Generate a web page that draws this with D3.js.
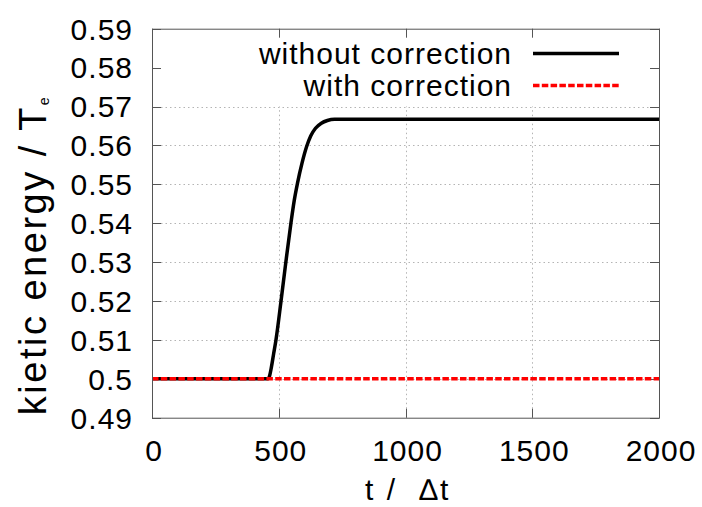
<!DOCTYPE html>
<html>
<head>
<meta charset="utf-8">
<script src="https://cdn.jsdelivr.net/npm/d3@7"></script>
<style>
  html, body { margin: 0; padding: 0; background: #fff; }
  text { font-family: "Liberation Sans", Arial, sans-serif; fill: #000; letter-spacing: 1px; }
</style>
</head>
<body>
<svg id="chart" width="702" height="507"></svg>
<script>
'use strict'

// data
const xTicks = [0, 500, 1000, 1500, 2000]
const yTicks = [0.49, 0.5, 0.51, 0.52, 0.53, 0.54, 0.55, 0.56, 0.57, 0.58, 0.59]
const tWithout = [0, 100, 200, 300, 400, 458, 464, 471, 480, 489, 509, 528, 548, 561, 574, 592, 610, 626, 645, 668, 692, 720, 800, 1000, 1500, 2000]
const eWithout = [0.5, 0.5, 0.5, 0.5, 0.5, 0.5, 0.5008, 0.503, 0.5065, 0.51, 0.52, 0.53, 0.54, 0.5458, 0.5503, 0.5555, 0.5597, 0.5624, 0.5644, 0.5657, 0.5664, 0.5667, 0.5667, 0.5667, 0.5667, 0.5667]
const tWith = [0, 500, 1000, 1500, 2000]
const eWith = [0.5, 0.5, 0.5, 0.5, 0.5]
const seriesNames = ['without correction', 'with correction']

const d3 = window.d3
const svg = d3.select('#chart')
const plotLeft = 152
const plotRight = 659
const plotTop = 28.7
const plotBottom = 417.7

const x = d3.scaleLinear().domain([0, 2000]).range([plotLeft, plotRight])
const y = d3.scaleLinear().domain([0.49, 0.59]).range([plotBottom, plotTop])

const fs = 30
const gridColor = '#b4b4b4'
const frameColor = '#555'

// grid (hidden behind the key at the top)
const grid = svg.append('g')
  .attr('stroke', gridColor)
  .attr('stroke-width', 1)
  .attr('stroke-dasharray', '1.5,3')
yTicks.filter((v) => v > 0.495 && v < 0.575).forEach((v) => {
  grid.append('line')
    .attr('x1', plotLeft).attr('x2', plotRight)
    .attr('y1', Math.round(y(v)) + 0.5).attr('y2', Math.round(y(v)) + 0.5)
})
xTicks.filter((v) => v > 0 && v < 2000).forEach((v) => {
  grid.append('line')
    .attr('x1', Math.round(x(v)) + 0.5).attr('x2', Math.round(x(v)) + 0.5)
    .attr('y1', plotBottom).attr('y2', y(0.57))
})

// ticks on all four sides, pointing inward
const tickLen = 9
const ticks = svg.append('g').attr('stroke', frameColor).attr('stroke-width', 1)
yTicks.forEach((v) => {
  const yy = Math.round(y(v)) + 0.5
  ticks.append('line').attr('x1', plotLeft).attr('x2', plotLeft + tickLen).attr('y1', yy).attr('y2', yy)
  ticks.append('line').attr('x1', plotRight).attr('x2', plotRight - tickLen).attr('y1', yy).attr('y2', yy)
})
xTicks.forEach((v) => {
  const xx = Math.round(x(v)) + 0.5
  ticks.append('line').attr('x1', xx).attr('x2', xx).attr('y1', plotBottom).attr('y2', plotBottom - tickLen)
  ticks.append('line').attr('x1', xx).attr('x2', xx).attr('y1', plotTop).attr('y2', plotTop + tickLen)
})

// tick labels
svg.append('g').selectAll('text')
  .data(yTicks)
  .enter().append('text')
  .attr('x', plotLeft - 19)
  .attr('y', (d) => y(d))
  .attr('dy', '0.36em')
  .attr('text-anchor', 'end')
  .style('font-size', fs + 'px')
  .text((d) => String(+d.toFixed(2)))

svg.append('g').selectAll('text')
  .data(xTicks)
  .enter().append('text')
  .attr('x', (d) => x(d) + 2)
  .attr('y', 461)
  .attr('text-anchor', 'middle')
  .style('font-size', fs + 'px')
  .text((d) => d)

// lines
const line = d3.line()
  .x((d) => x(d[0]))
  .y((d) => y(d[1]))
  .curve(d3.curveMonotoneX)

const plot = svg.append('g')
plot.append('path')
  .datum(tWithout.map((t, i) => [t, eWithout[i]]))
  .attr('d', line)
  .attr('fill', 'none')
  .attr('stroke', '#000')
  .attr('stroke-width', 3.5)
  .attr('stroke-linejoin', 'round')

plot.append('path')
  .datum(tWith.map((t, i) => [t, eWith[i]]))
  .attr('d', line)
  .attr('fill', 'none')
  .attr('stroke', '#f00')
  .attr('stroke-width', 3.5)
  .attr('stroke-dasharray', '6.5,2.3')

// border
svg.append('rect')
  .attr('x', plotLeft + 0.5).attr('y', plotTop + 0.5)
  .attr('width', plotRight - plotLeft).attr('height', plotBottom - plotTop)
  .attr('fill', 'none')
  .attr('stroke', frameColor)
  .attr('stroke-width', 1)

// key
const key = svg.append('g')
const keyStyles = [
  { color: '#000', dash: null },
  { color: '#f00', dash: '6.5,2.3' }
]
seriesNames.forEach((name, i) => {
  const yy = 53.5 + i * 32
  key.append('text')
    .attr('x', 512)
    .attr('y', yy)
    .attr('dy', '0.36em')
    .attr('text-anchor', 'end')
    .style('font-size', fs + 'px')
    .text(name)
  key.append('line')
    .attr('x1', 533).attr('x2', 619)
    .attr('y1', yy).attr('y2', yy)
    .attr('stroke', keyStyles[i].color)
    .attr('stroke-width', 3.5)
    .attr('stroke-dasharray', keyStyles[i].dash)
})

// axis titles
const yTitle = svg.append('text')
  .attr('transform', 'translate(46, 255) rotate(-90)')
  .attr('text-anchor', 'middle')
  .style('font-size', '38px')
  .style('letter-spacing', '2.5px')
yTitle.append('tspan').text('kietic energy / T')
yTitle.append('tspan')
  .attr('dy', '0.2em')
  .style('font-size', '14px')
  .text('e')

svg.append('text')
  .attr('x', 408)
  .attr('y', 500)
  .attr('text-anchor', 'middle')
  .style('font-size', fs + 'px')
  .style('letter-spacing', '2.5px')
  .style('white-space', 'pre')
  .text('t /  \u2206t')
</script>
</body>
</html>
